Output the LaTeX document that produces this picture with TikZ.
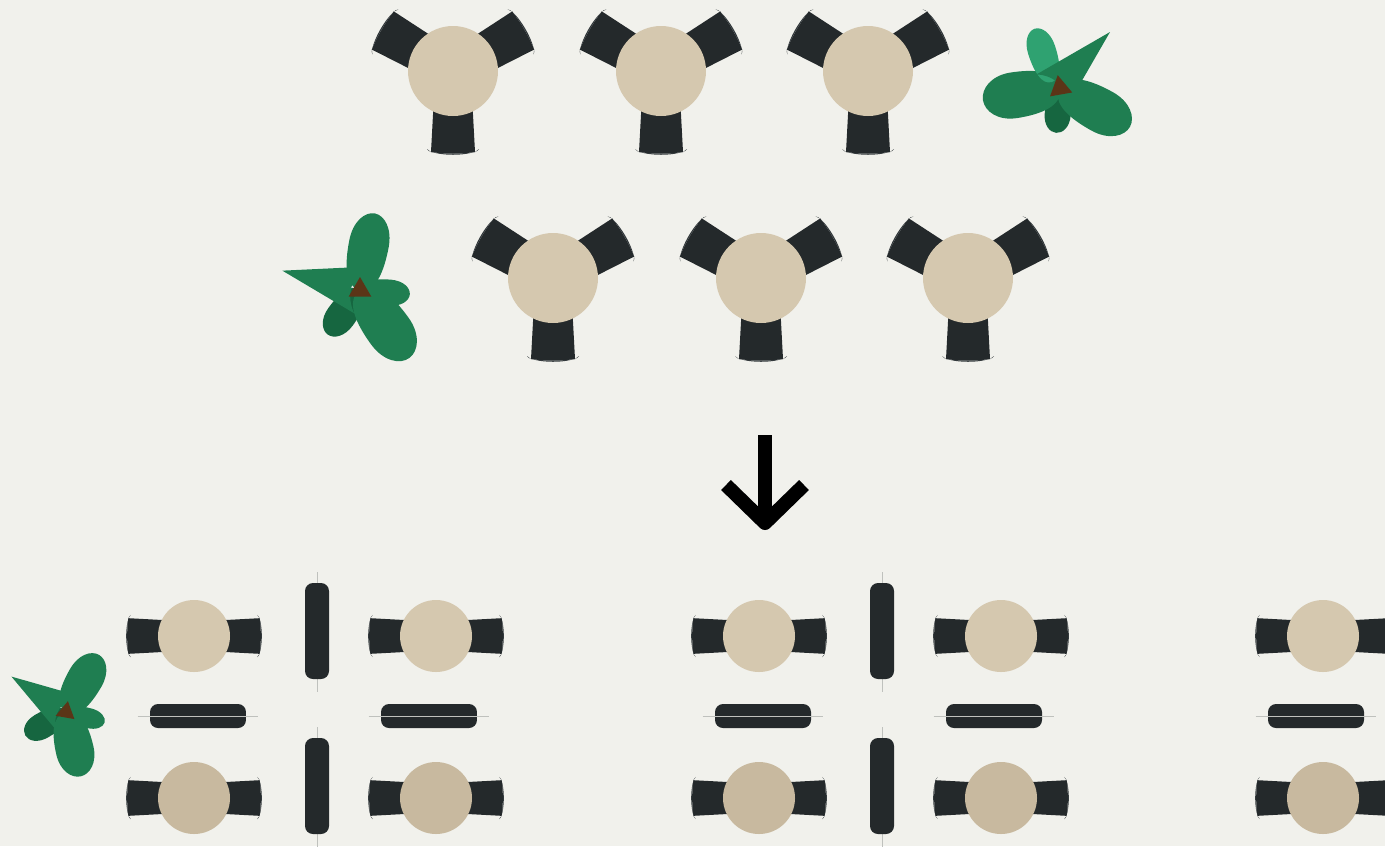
\documentclass[tikz,border=0pt]{standalone}
\usetikzlibrary{calc}
\definecolor{floor}{HTML}{F1F1EC}
\definecolor{oak}{HTML}{D5C8AF}
\definecolor{oakdark}{HTML}{C8B99F}
\definecolor{charcoal}{HTML}{24292B}
\definecolor{chairedge}{HTML}{33393C}
\definecolor{leafgreen}{HTML}{1F7E51}
\definecolor{leaflight}{HTML}{2FA271}
\definecolor{leafdark}{HTML}{166640}
\definecolor{soil}{HTML}{5B3517}
\definecolor{guidegrey}{HTML}{BFC1BD}

\tikzset{
  chair/.pic={
    \fill[charcoal] (25,-19) -- (81,-22) .. controls (83,-10) and (83,10) .. (81,22) -- (25,19) -- cycle;
    \fill[chairedge] (78,-26) -- (80,-24) .. controls (85,-12) and (85,12) .. (80,24) -- (78,26) -- (81,22) .. controls (83,10) and (83,-10) .. (81,-22) -- cycle;
  },
  leaf/.pic={\fill[#1] (0,0) .. controls (0,0.4) and (0.3,0.5) .. (0.6,0.5) .. controls (0.85,0.5) and (1,0.25) .. (1,0) .. controls (1,-0.25) and (0.85,-0.5) .. (0.6,-0.5) .. controls (0.3,-0.5) and (0,-0.4) .. (0,0) -- cycle;},
  spike/.pic={\fill[#1] (0,0.5) -- (1,0) -- (0,-0.5) .. controls (0.15,-0.2) and (0.15,0.2) .. (0,0.5) -- cycle;},
  vdivider/.style={fill=charcoal, rounded corners=0.16cm, minimum width=0.48cm, minimum height=1.92cm, inner sep=0pt},
  hdivider/.style={fill=charcoal, rounded corners=0.16cm, minimum width=1.92cm, minimum height=0.48cm, inner sep=0pt},
  guide/.style={guidegrey, line width=0.4pt},
  bigarrow/.style={black, line width=0.28cm, line join=round}
}

\begin{document}
\begin{tikzpicture}[x=0.02cm, y=0.02cm]
\useasboundingbox (0,0) rectangle (1385,-846);
\clip (0,0) rectangle (1385,-846);
\fill[floor] (0,0) rectangle (1385,-846);

% three-chair tables
\coordinate (a1) at (453,-71);
\coordinate (a2) at (661,-71);
\coordinate (a3) at (868,-71);
\coordinate (b1) at (553,-278);
\coordinate (b2) at (761,-278);
\coordinate (b3) at (968,-278);
\foreach \t in {a1,a2,a3,b1,b2,b3} {
  \pic[rotate=-90] at (\t) {chair};
  \pic[rotate=30] at (\t) {chair};
  \pic[rotate=150] at (\t) {chair};
  \fill[oak] (\t) circle (45);
}

% plants
\coordinate (p1) at (1060,-88);
\pic[rotate=-95, xscale=45, yscale=26] at (p1) {leaf=leafdark};
\pic[rotate=189, xscale=78, yscale=46] at (p1) {leaf=leafgreen};
\pic[rotate=-29, xscale=80, yscale=44] at (p1) {leaf=leafgreen};
\pic[rotate=108, xscale=56, yscale=28] at ($(p1)+(-8,6)$) {leaf=leaflight};
\pic[rotate=45, xscale=82, yscale=44] at ($(p1)+(-8,-2)$) {spike=leafgreen};
\fill[soil] (p1) +(100:13) -- +(220:13) -- +(340:13) -- cycle;

\coordinate (p2) at (360,-290);
\pic[rotate=-126, xscale=55, yscale=30] at (p2) {leaf=leafdark};
\pic[rotate=-5, xscale=50, yscale=26] at (p2) {leaf=leafgreen};
\pic[rotate=79, xscale=78, yscale=40] at (p2) {leaf=leafgreen};
\pic[rotate=-54, xscale=84, yscale=46] at (p2) {leaf=leafgreen};
\pic[rotate=166, xscale=80, yscale=48] at (p2) {spike=leafgreen};
\fill[soil] (p2) +(90:13) -- +(210:13) -- +(330:13) -- cycle;

\coordinate (p3) at (66,-712);
\pic[rotate=-150, xscale=47, yscale=26] at (p3) {leaf=leafdark};
\pic[rotate=-15, xscale=40, yscale=20] at (p3) {leaf=leafgreen};
\pic[rotate=60, xscale=66, yscale=36] at (p3) {leaf=leafgreen};
\pic[rotate=-77, xscale=66, yscale=38] at (p3) {leaf=leafgreen};
\pic[rotate=147, xscale=65, yscale=40] at (p3) {spike=leafgreen};
\fill[soil] (p3) +(80:11) -- +(200:11) -- +(320:11) -- cycle;

% arrow
\coordinate (arrtop) at (765,-435);
\coordinate (arrtip) at (765,-523);
\draw[bigarrow] (arrtop) -- (arrtip);
\draw[bigarrow] (arrtip) ++(-39,38) -- (arrtip) -- ++(39,38);

% two-chair tables
\foreach \x/\c in {194/c1,436/c2,759/c3,1001/c4,1323/c5} {
  \coordinate (\c u) at (\x,-636);
  \coordinate (\c d) at (\x,-798);
  \pic[scale=0.81] at (\c u) {chair};
  \pic[scale=0.81, rotate=180] at (\c u) {chair};
  \fill[oak] (\c u) circle (36);
  \pic[scale=0.81] at (\c d) {chair};
  \pic[scale=0.81, rotate=180] at (\c d) {chair};
  \fill[oakdark] (\c d) circle (36);
}

% dividers
\coordinate (v1) at (317,-631);
\coordinate (v2) at (317,-786);
\coordinate (v3) at (882,-631);
\coordinate (v4) at (882,-786);
\foreach \v in {v1,v2,v3,v4} {
  \draw[guide] (\v) ++(0,59) -- ++(0,-120);
  \node[vdivider] at (\v) {};
}
\node[hdivider] (h1) at (198,-716) {};
\node[hdivider] (h2) at (429,-716) {};
\node[hdivider] (h3) at (763,-716) {};
\node[hdivider] (h4) at (994,-716) {};
\node[hdivider] (h5) at (1316,-716) {};
\foreach \h in {h1,h2,h3,h4,h5} {
  \draw[guide] ([xshift=-0.24cm]\h.west) -- ([xshift=0.24cm]\h.east);
}

\end{tikzpicture}
\end{document}
